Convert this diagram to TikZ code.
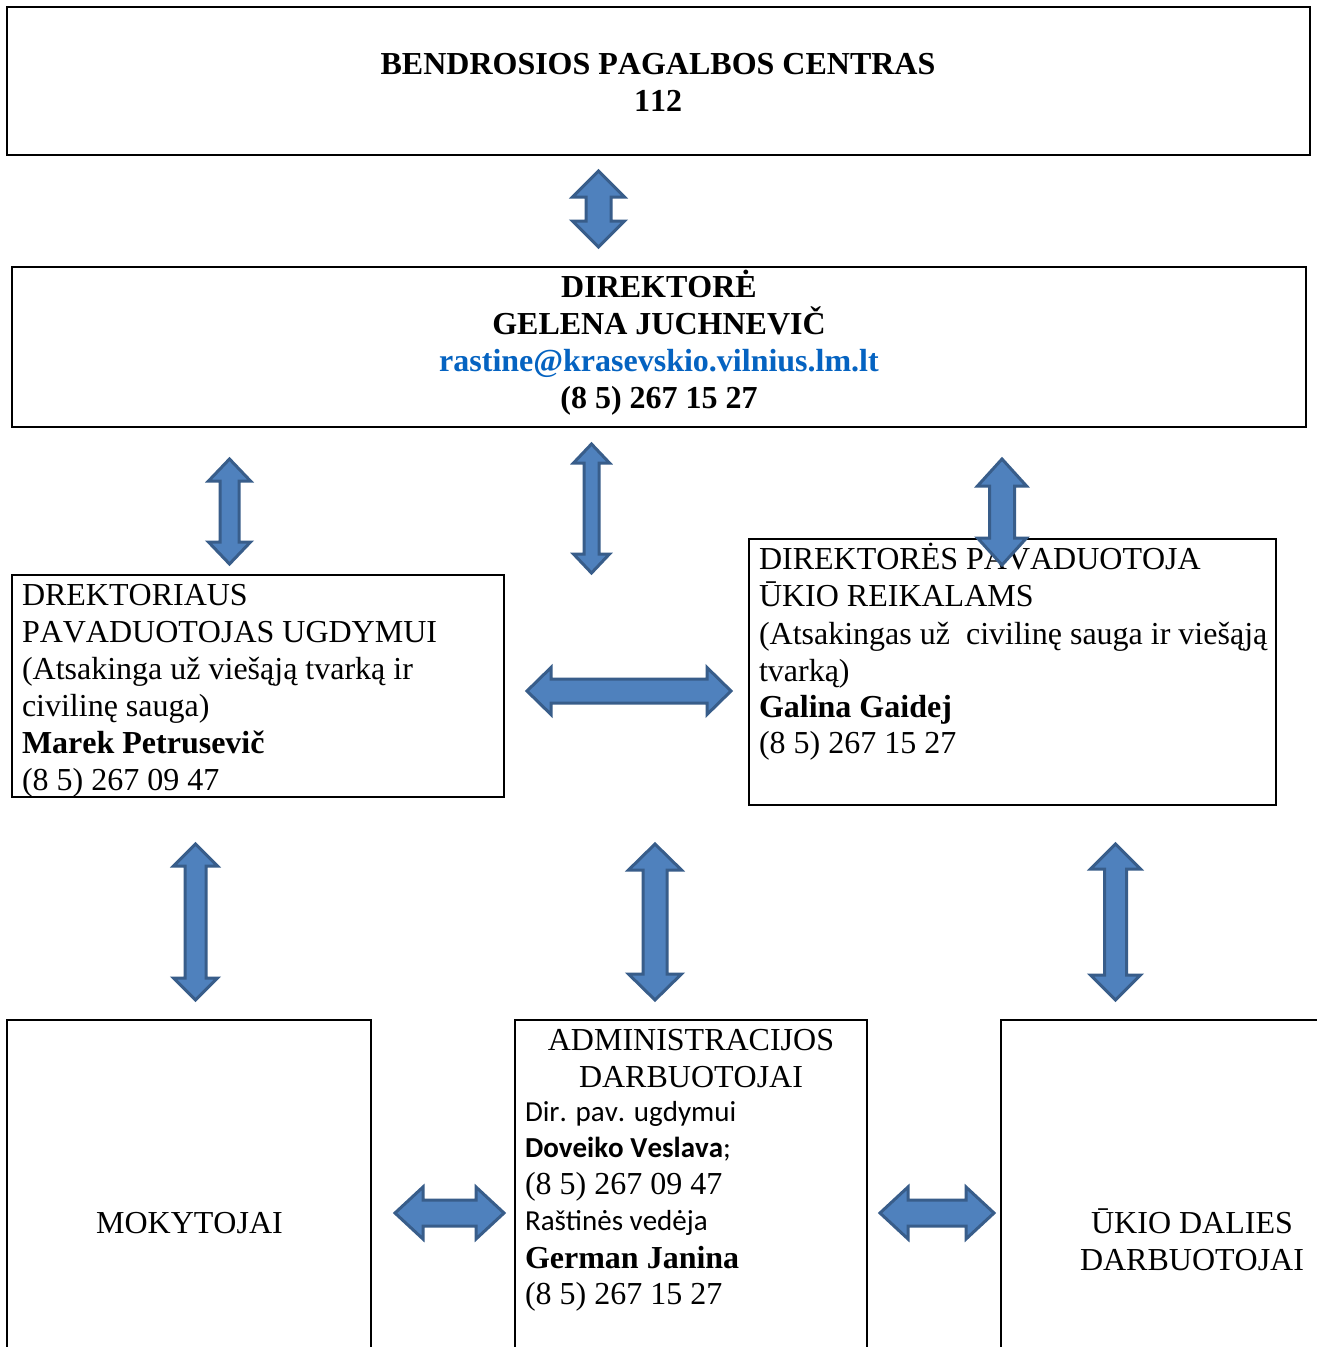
\documentclass[tikz,border=0pt]{standalone}
\usepackage{fontspec}
\setmainfont[Kerning=Off]{Liberation Serif}
\newfontfamily\carl[Kerning=Off]{Carlito}
\definecolor{arrfill}{HTML}{4F81BD}
\definecolor{arrline}{HTML}{385D8A}
\definecolor{linkblue}{HTML}{0563C1}
\newcommand{\VArr}[7]{% name, cx, ytop, ybot, half head w, half shaft w, head len
  \draw[blockarrow] (#2,#3) coordinate (#1-a) -- (#2+#5,#3+#7) -- (#2+#6,#3+#7) -- (#2+#6,#4-#7) -- (#2+#5,#4-#7) -- (#2,#4) coordinate (#1-b) -- (#2-#5,#4-#7) -- (#2-#6,#4-#7) -- (#2-#6,#3+#7) -- (#2-#5,#3+#7) -- cycle;}
\newcommand{\HArr}[7]{% name, cy, xleft, xright, half head h, half shaft h, head len
  \draw[blockarrow] (#3,#2) coordinate (#1-a) -- (#3+#7,#2-#5) -- (#3+#7,#2-#6) -- (#4-#7,#2-#6) -- (#4-#7,#2-#5) -- (#4,#2) coordinate (#1-b) -- (#4-#7,#2+#5) -- (#4-#7,#2+#6) -- (#3+#7,#2+#6) -- (#3+#7,#2+#5) -- cycle;}
\begin{document}
\begin{tikzpicture}[x=1pt,y=-1pt,
  box/.style={draw=black,line width=2.2pt,rectangle,inner sep=0pt,outer sep=0pt},
  blockarrow/.style={fill=arrfill,draw=arrline,line width=3pt,line join=miter},
  txt/.style={inner sep=0pt,outer sep=0pt,font=\fontsize{32}{36.8}\selectfont},
  txtb/.style={txt,font=\fontsize{32}{36.8}\selectfont\bfseries},
  ctxt/.style={inner sep=0pt,outer sep=0pt,font=\fontsize{29}{36}\selectfont\carl}]
\useasboundingbox[fill=white] (0,0) rectangle (1317,1347);
% boxes
\node[box,minimum width=1303pt,minimum height=148pt] (centras) at (658.5,81) {};
\node[box,minimum width=1294pt,minimum height=160pt] (dir) at (659,347) {};
\node[box,minimum width=492pt,minimum height=222pt] (ugd) at (258,686) {};
\node[box,minimum width=527pt,minimum height=266pt] (ukio) at (1012.5,672) {};
\node[box,minimum width=364pt,minimum height=340pt] (mok) at (189,1190) {};
\node[box,minimum width=352pt,minimum height=340pt] (adm) at (691,1190) {};
\node[box,minimum width=400pt,minimum height=340pt] (ukd) at (1201,1190) {};
% top box text
\node[txtb,anchor=base] (t1) at (658,74) {BENDROSIOS PAGALBOS CENTRAS};
\node[txtb,anchor=base] (t2) at (658,111) {112};
% director
\node[txtb,anchor=base] (d1) at (659,297) {DIREKTORĖ};
\node[txtb,anchor=base] (d2) at (659,334) {GELENA JUCHNEVIČ};
\node[txtb,anchor=base,text=linkblue] (d3) at (659,371) {rastine@krasevskio.vilnius.lm.lt};
\node[txtb,anchor=base] (d4) at (659,408) {(8 5) 267 15 27};
% left mid
\node[txt,anchor=base west] (u1) at (22,605) {DREKTORIAUS};
\node[txt,anchor=base west] (u2) at (22,642) {PAVADUOTOJAS UGDYMUI};
\node[txt,anchor=base west] (u3) at (22,679) {(Atsakinga už viešąją tvarką ir};
\node[txt,anchor=base west] (u4) at (22,716) {civilinę sauga)};
\node[txtb,anchor=base west] (u5) at (22,753) {Marek Petrusevič};
\node[txt,anchor=base west] (u6) at (22,790) {(8 5) 267 09 47};
% right mid
\node[txt,anchor=base west] (k1) at (759,569) {DIREKTORĖS PAVADUOTOJA};
\node[txt,anchor=base west] (k2) at (759,606) {ŪKIO REIKALAMS};
\node[txt,anchor=base west] (k3) at (759,644) {(Atsakingas už\ \ civilinę sauga ir viešąją};
\node[txt,anchor=base west] (k4) at (759,681) {tvarką)};
\node[txtb,anchor=base west] (k5) at (759,717) {Galina Gaidej};
\node[txt,anchor=base west] (k6) at (759,753) {(8 5) 267 15 27};
% bottom left
\node[txt,anchor=base] (m1) at (189.5,1233) {MOKYTOJAI};
% bottom middle
\node[txt,anchor=base] (a1) at (691,1050) {ADMINISTRACIJOS};
\node[txt,anchor=base] (a2) at (691,1087) {DARBUOTOJAI};
\node[ctxt,anchor=base west] (a3) at (525,1121) {Dir. pav. ugdymui};
\node[ctxt,anchor=base west] (a4) at (525,1157) {\bfseries Doveiko Veslava\mdseries;};
\node[txt,anchor=base west] (a5) at (525,1194) {(8 5) 267 09 47};
\node[ctxt,anchor=base west] (a6) at (525,1230) {Raštinės vedėja};
\node[txtb,anchor=base west] (a7) at (525,1268) {German Janina};
\node[txt,anchor=base west] (a8) at (525,1304) {(8 5) 267 15 27};
% bottom right
\node[txt,anchor=base] (r1) at (1192,1233) {ŪKIO DALIES};
\node[txt,anchor=base] (r2) at (1192,1270) {DARBUOTOJAI};
% block arrows
\VArr{ar1}{598.5}{171}{247}{26}{12.5}{26}
\VArr{ar2}{229.5}{459}{564}{21}{9.5}{22}
\VArr{ar3}{591.5}{444}{573}{18}{7.5}{19}
\VArr{ar4}{1002}{459}{565}{24.5}{12.5}{27}
\HArr{ar5}{691}{527}{731}{23.5}{12}{24}
\VArr{ar6}{195.5}{844}{1000}{22}{10.5}{22}
\VArr{ar7}{655}{844}{1000}{26.5}{12}{26}
\VArr{ar8}{1115.5}{844}{1000}{25}{11}{25}
\HArr{ar9}{1213}{395}{504}{26}{13}{28}
\HArr{ar10}{1213}{880}{994}{26}{13}{28}
\end{tikzpicture}
\end{document}
